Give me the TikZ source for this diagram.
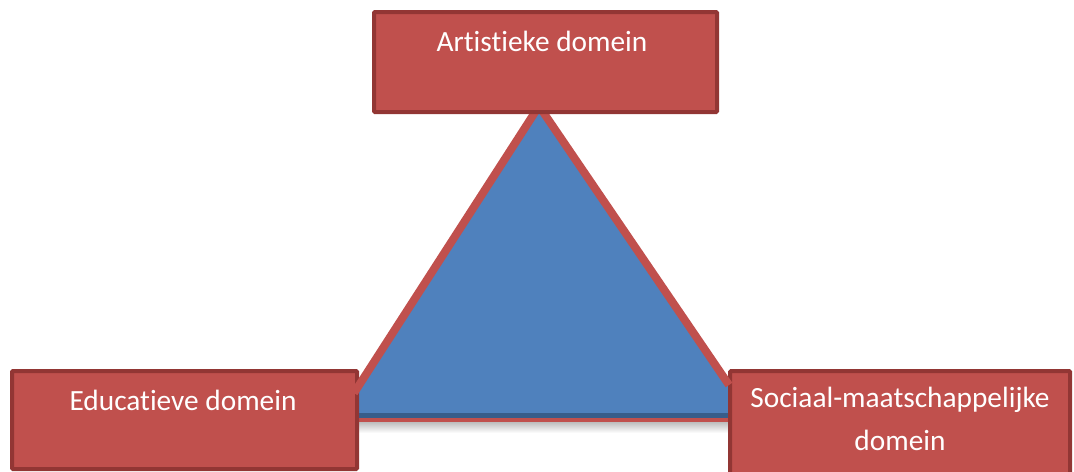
\documentclass[tikz,border=0pt]{standalone}
\usepackage{fontspec}
\setmainfont{Carlito}[Ligatures={NoCommon}]
\definecolor{boxred}{HTML}{C0504D}
\definecolor{boxdark}{HTML}{923634}
\definecolor{triblue}{HTML}{4F81BD}
\definecolor{darkblue}{HTML}{385D8A}
\begin{document}
\begin{tikzpicture}[x=0.75pt,y=-0.75pt,
  domainbox/.style={draw=boxdark, fill=boxred, line width=3pt, rectangle, rounded corners=0.8pt, inner sep=0pt},
  domainlabel/.style={text=white, font=\fontsize{22}{32.25}\selectfont, align=center, inner sep=0pt, anchor=base},
  rededge/.style={draw=boxred, line width=6pt, line cap=butt}]
\useasboundingbox (0,0) rectangle (1074,471);
% triangle
\coordinate (apex) at (539,106);
\coordinate (lefte) at (354,393);
\coordinate (righte) at (729,385);
\coordinate (baseL) at (338,418);
\coordinate (baseR) at (754,418);
\shade[top color=black!28, bottom color=white] (340,421) rectangle (750,433);
\fill[triblue] (apex) -- (baseL) -- (baseR) -- cycle;
\draw[darkblue, line width=3.75pt] (340,415.5) -- (750,415.5);
\draw[boxred, line width=3pt] (340,420) -- (750,420);
% bottom boxes
\node[domainbox, minimum width=258.75pt, minimum height=73.5pt] (edu) at (184.5,420) {};
\node[domainbox, minimum width=255pt, minimum height=90pt] (soc) at (900,431) {};
% triangle edges
\draw[rededge] (lefte) -- (apex) -- (righte);
% top box
\node[domainbox, minimum width=257.25pt, minimum height=75pt] (art) at (545.5,62) {};
% labels
\node[domainlabel] (artl) at (542,51) {Artistieke domein};
\node[domainlabel] (edul) at (183,410) {Educatieve domein};
\node[domainlabel] (socl) at (900,450) {Sociaal-maatschappelijke\\domein};
\end{tikzpicture}
\end{document}
